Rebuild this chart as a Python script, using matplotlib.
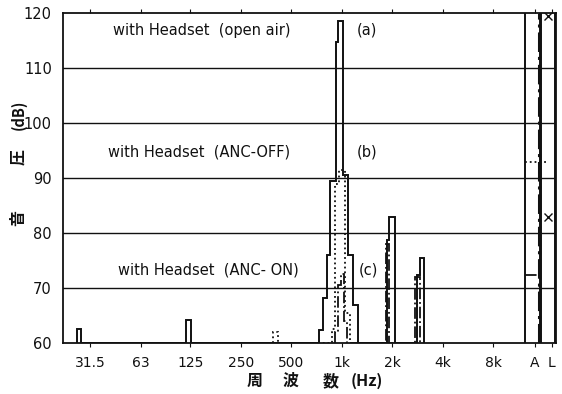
import numpy as np
import matplotlib.pyplot as plt

plt.rcParams['font.family'] = ['DejaVu Sans', 'Noto Sans CJK JP']

# octave band tick labels (centre frequency, Hz)
tick_freqs = [31.5, 63, 125, 250, 500, 1000, 2000, 4000, 8000]
tick_labels = ["31.5", "63", "125", "250", "500", "1k", "2k", "4k", "8k"]

# (a) open air : step edges (Hz) and levels (dB)
a_edges = [26.3, 27.8, 117.5, 125.8, 732, 767, 811, 848, 921, 953, 1018,
           1093, 1163, 1251, 1847, 1906, 2070, 2788, 2917, 3094]
a_levels = [62.5, 60, 64.2, 60, 62.4, 68.2, 76, 89.5, 114.8, 118.6, 90.5,
            76, 67, 60, 78.7, 83, 60, 72.4, 75.5]

# (b) ANC-OFF
b_edges = [388, 416, 868, 908, 960, 1042, 1116]
b_levels = [62, 60, 62.5, 89, 91.5, 65.5]

# (c) ANC-ON
c_edges = [908, 943, 982, 1028, 1071, 1830, 1906, 2742, 2917]
c_levels = [62, 70.5, 72.5, 64, 60, 78, 60, 72]

# overall values, A and L columns
a_overall = [121, 121]
b_overall = [93, 60]
c_overall = [72.4, 60]
l_marks = [119.5, 83]


def pos(f):
    return np.log2(np.asarray(f, dtype=float) / 1000.0)


fig = plt.figure(figsize=(5.62, 3.94), dpi=100)
ax = fig.add_axes([0.1121, 0.1294, 0.8772, 0.8376])

ink = "#111111"
ax.stairs(a_levels, pos(a_edges), baseline=60, color=ink, lw=1.4, ls="-")
ax.stairs(b_levels, pos(b_edges), baseline=60, color=ink, lw=1.3, ls=":")
ax.stairs(c_levels, pos(c_edges), baseline=60, color=ink, lw=1.3, ls="-.")

# A / L columns at the right
col_A = [3.624, 3.921]
col_L = [3.941, 4.218]
ax.stairs([a_overall[0]], col_A, baseline=60, color=ink, lw=1.4)
ax.stairs([a_overall[1]], col_L, baseline=60, color=ink, lw=1.4)
ax.hlines(b_overall[0], col_A[0], 4.08, color=ink, lw=1.3, ls=":")
ax.hlines(c_overall[0], col_A[0], 3.86, color=ink, lw=1.3, ls="-.")
ax.axvline(3.90, color=ink, lw=2.2, ls="-.")
ax.plot([4.08, 4.08], l_marks, ls="none", marker="x", color=ink, ms=6, mew=1.0)

# horizontal grid
for yv in [70, 80, 90, 100, 110]:
    ax.axhline(yv, color=ink, lw=1.0)

ax.set_xlim(-5.525, 4.24)
ax.set_ylim(60, 120)
ax.set_xticks(list(pos(tick_freqs)) + [3.82, 4.16])
ax.set_xticklabels(tick_labels + ["A", "L"])
ax.set_yticks([60, 70, 80, 90, 100, 110, 120])
ax.tick_params(axis="x", direction="out", length=3, top=True, labelsize=10, pad=6,
               colors=ink)
ax.tick_params(axis="y", length=0, labelsize=10.5, pad=8, colors=ink)
for s in ax.spines.values():
    s.set_linewidth(1.3)
    s.set_color(ink)

# curve labels
txt = dict(fontsize=10.5, va="center", ha="left", color=ink)
ax.text(-4.53, 116.9, "with Headset  (open air)", **txt)
ax.text(0.30, 116.9, "(a)", **txt)
ax.text(-4.63, 94.7, "with Headset  (ANC-OFF)", **txt)
ax.text(0.30, 94.7, "(b)", **txt)
ax.text(-4.44, 73.3, "with Headset  (ANC- ON)", **txt)
ax.text(0.34, 73.3, "(c)", **txt)

# axis titles
cjk = dict(family=["Noto Sans CJK JP", "DejaVu Sans"], fontsize=11.5, weight="bold",
           color=ink, ha="center", va="center")
fig.text(0.033, 0.447, "音", rotation=90, **cjk)
fig.text(0.033, 0.6015, "圧", rotation=90, **cjk)
fig.text(0.033, 0.708, "(dB)", rotation=90,
         **{**cjk, "fontsize": 10.5})
fig.text(0.4537, 0.033, "周", **cjk)
fig.text(0.5178, 0.033, "波", **cjk)
fig.text(0.589, 0.033, "数", **cjk)
fig.text(0.653, 0.033, "(Hz)", **cjk)

fig.savefig("out.png", dpi=100)
